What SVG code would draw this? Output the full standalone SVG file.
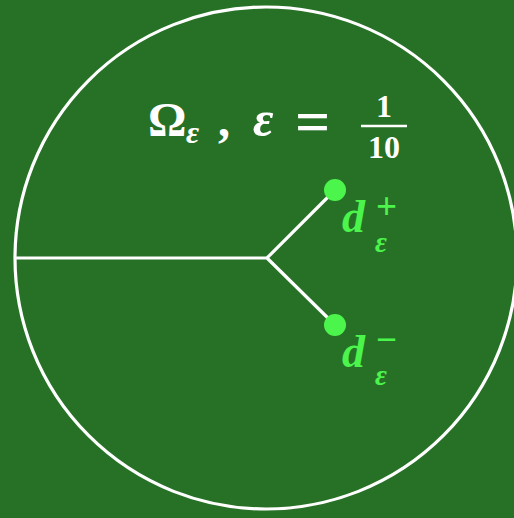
<svg xmlns="http://www.w3.org/2000/svg" width="514" height="518" viewBox="0 0 514 518">
<style>
.w{fill:none;stroke:#ffffff;stroke-width:3.2}
.t{font-family:"Liberation Serif","DejaVu Serif",serif;font-weight:bold;fill:#ffffff}
.g{font-family:"Liberation Serif","DejaVu Serif",serif;font-weight:bold;fill:#4cf54c}
.i{font-style:italic}
.dot{fill:#4cf54c}
</style>
<rect width="514" height="518" fill="#277127"/>
<g id="domain">
<circle class="w" cx="266" cy="258" r="251"/>
</g>
<g id="connectors">
<path class="w" d="M15 258 H267 L335 190 M267 258 L335 325"/>
</g>
<g id="title">
<text class="t" x="148" y="136" font-size="48">Ω<tspan class="i" x="186" y="143" font-size="32">ε</tspan><tspan x="218" y="136">,</tspan><tspan class="i" x="253" y="136" font-size="50">ε</tspan><tspan x="295" y="142" font-size="62">=</tspan></text>
<text class="t" x="384" y="117" font-size="32" text-anchor="middle">1</text>
<line x1="361" y1="126" x2="407" y2="126" stroke="#ffffff" stroke-width="2.5"/>
<text class="t" x="384" y="158" font-size="32" text-anchor="middle">10</text>
</g>
<g id="dplus">
<circle class="dot" cx="335" cy="190" r="11"/>
<text class="g i" x="342" y="232" font-size="46">d<tspan font-style="normal" x="376" y="219" font-size="37">+</tspan><tspan x="375" y="252" font-size="29">ε</tspan></text>
</g>
<g id="dminus">
<circle class="dot" cx="335" cy="325" r="11"/>
<text class="g i" x="342" y="367" font-size="46">d<tspan font-style="normal" x="376" y="352" font-size="37">−</tspan><tspan x="375" y="385" font-size="29">ε</tspan></text>
</g>
</svg>
